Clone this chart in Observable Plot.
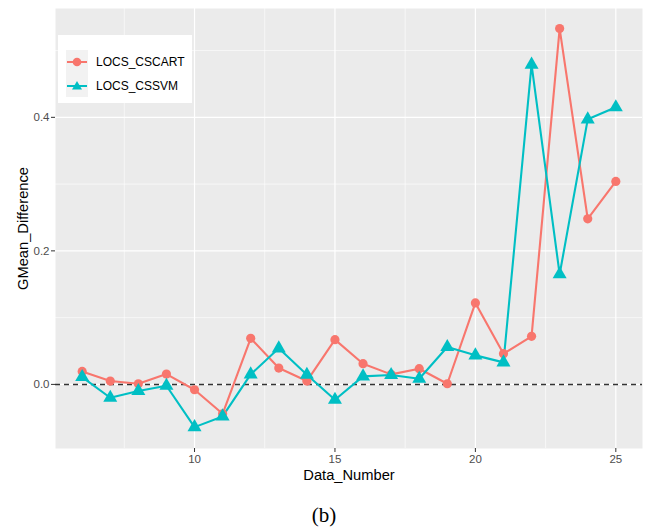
<!DOCTYPE html>
<html>
<head>
<meta charset="utf-8">
<script src="https://cdn.jsdelivr.net/npm/d3@7"></script>
<script src="https://cdn.jsdelivr.net/npm/@observablehq/plot@0.6"></script>
<style>
  body { margin: 0; background: #fff; font-family: "Liberation Sans", Arial, sans-serif; }
  #wrap { position: relative; width: 648px; }
  #legend { position: absolute; left: 58px; top: 35px; width: 134px; height: 68px; background: #fff; }
  #legend .keys { position: absolute; left: 8px; top: 15px; width: 22px; height: 47px; background: #F2F2F2; }
  #legend .item { position: absolute; left: 38px; font-size: 12px; color: #000; line-height: 14px; }
  #caption { text-align: center; font-family: "Liberation Serif", "Times New Roman", serif; font-size: 21px; margin-top: 8px; line-height: 24px; }
</style>
</head>
<body>
<div id="wrap">
  <div id="chart"></div>
  <div id="legend">
    <div class="keys">
      <svg width="22" height="47">
        <line x1="1" x2="21" y1="12" y2="12" stroke="#F8766D" stroke-width="2"/>
        <circle cx="11" cy="12" r="4.3" fill="#F8766D"/>
        <line x1="1" x2="21" y1="36" y2="36" stroke="#00BFC4" stroke-width="2"/>
        <path d="M11,31 L16,39.5 L6,39.5 Z" fill="#00BFC4"/>
      </svg>
    </div>
    <div class="item" style="top:20px">LOCS_CSCART</div>
    <div class="item" style="top:44px">LOCS_CSSVM</div>
  </div>
  <div id="caption">(b)</div>
</div>
<script>
const dataNumber = [6,7,8,9,10,11,12,13,14,15,16,17,18,19,20,21,22,23,24,25];
const cscart = [0.0195,0.005,0.001,0.0155,-0.008,-0.044,0.069,0.0245,0.005,0.067,0.031,0.015,0.0235,0.001,0.122,0.046,0.072,0.533,0.248,0.304];
const cssvm  = [0.011,-0.020,-0.010,-0.002,-0.064,-0.048,0.015,0.054,0.0145,-0.023,0.012,0.014,0.0085,0.056,0.0435,0.033,0.479,0.165,0.397,0.415];
const seriesNames = ["LOCS_CSCART","LOCS_CSSVM"];
const xMajor = [10,15,20,25];
const xMinor = [7.5,12.5,17.5,22.5];
const yMajor = [0,0.2,0.4];
const yMinor = [0.1,0.3,0.5];
const yTickLabels = ["0.0","0.2","0.4"];

const rows = [];
dataNumber.forEach((d,i)=>{
  rows.push({x:d, y:cscart[i], s:seriesNames[0]});
  rows.push({x:d, y:cssvm[i], s:seriesNames[1]});
});
const red = rows.filter(r=>r.s===seriesNames[0]);
const teal = rows.filter(r=>r.s===seriesNames[1]);

const chart = Plot.plot({
  width: 648,
  height: 495,
  marginLeft: 55,
  marginRight: 6,
  marginTop: 8,
  marginBottom: 47,
  style: { fontFamily: "Liberation Sans, Arial, sans-serif", background: "#fff" },
  x: { domain: [5.05, 25.95] },
  y: { domain: [-0.096, 0.563] },
  marks: [
    Plot.frame({ fill: "#EBEBEB", stroke: null }),
    Plot.gridX(xMinor, { stroke: "#fff", strokeOpacity: 1, strokeWidth: 0.6 }),
    Plot.gridY(yMinor, { stroke: "#fff", strokeOpacity: 1, strokeWidth: 0.6 }),
    Plot.gridX(xMajor, { stroke: "#fff", strokeOpacity: 1, strokeWidth: 1.2 }),
    Plot.gridY(yMajor, { stroke: "#fff", strokeOpacity: 1, strokeWidth: 1.2 }),
    Plot.axisX({ ticks: xMajor, tickSize: 4, tickPadding: 2, fontSize: 11.5, color: "#4D4D4D", stroke: "#333",
      label: "Data_Number", labelAnchor: "center", labelArrow: "none", labelOffset: 31 }),
    Plot.axisY({ ticks: yMajor, tickFormat: (d,i)=>yTickLabels[yMajor.indexOf(d)], tickSize: 4, tickPadding: 2, fontSize: 11.5, color: "#4D4D4D", stroke: "#333",
      label: "GMean_Difference", labelAnchor: "center", labelArrow: "none", labelOffset: 38 }),
    Plot.ruleY([0], { stroke: "#333", strokeWidth: 1.5, strokeDasharray: "5,4" }),
    Plot.line(red, { x: "x", y: "y", stroke: "#F8766D", strokeWidth: 2.1 }),
    Plot.line(teal, { x: "x", y: "y", stroke: "#00BFC4", strokeWidth: 2.1 }),
    Plot.dot(red, { x: "x", y: "y", fill: "#F8766D", r: 4.6, symbol: "circle" }),
    Plot.dot(teal, { x: "x", y: "y", fill: "#00BFC4", r: 5.2, symbol: "triangle" })
  ]
});
document.getElementById("chart").appendChild(chart);
chart.querySelectorAll("[aria-label='x-axis label'] text, [aria-label='y-axis label'] text").forEach(t=>{
  t.setAttribute("fill","#000"); t.style.fontSize = "14.7px";
});
</script>
</body>
</html>
